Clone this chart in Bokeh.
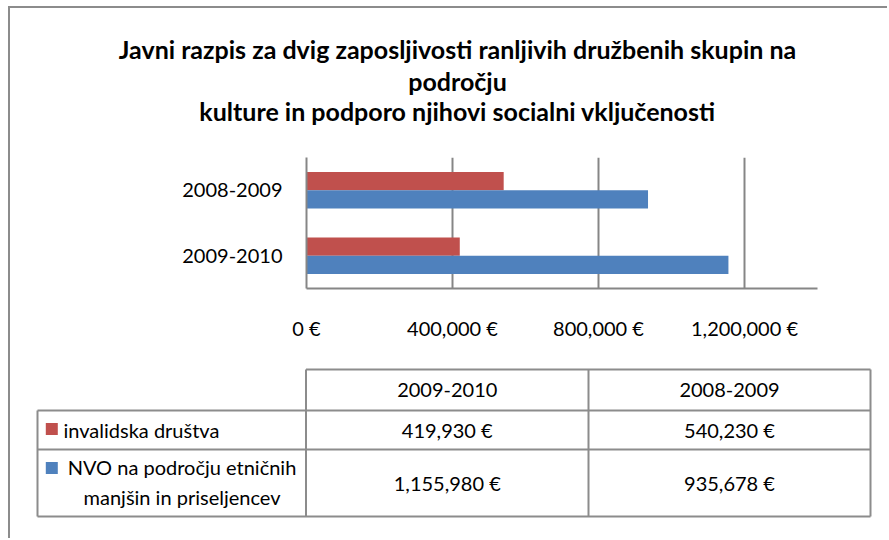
from bokeh.plotting import figure
from bokeh.models import Range1d, FactorRange, FixedTicker, ColumnDataSource
from bokeh.transform import dodge
from bokeh.layouts import column
from bokeh.core.properties import value
from bokeh.embed import file_html
from bokeh.resources import INLINE

# ---------------- data ----------------
categories = ["2009-2010", "2008-2009"]
invalidska = [419930, 540230]
nvo = [1155980, 935678]
series_names = ["invalidska društva", "NVO na področju etničnih manjšin in priseljencev"]
series_name_lines = [["invalidska društva"], ["NVO na področju etničnih", "manjšin in priseljencev"]]
ticks = [0, 400000, 800000, 1200000]
x_max = 1400000
title_lines = [
    "Javni razpis za dvig zaposljivosti ranljivih družbenih skupin na",
    "področju",
    "kulture in podporo njihovi socialni vključenosti",
]

# ---------------- style ----------------
RED = "#C0504D"
BLUE = "#4F81BD"
GRID = "#868686"
TBL = "#8c8c8c"
FONT = "Lato"
FS = "20px"

OX, OY = 10, 8          # offset of the layout inside the page
W = 889 - OX
H_T, H_B, H_TAB = 140, 207, 185


def euro(v):
    return f"{v:,} €"


def blank_fig(h):
    f = figure(width=W, height=h, x_range=Range1d(0, W), y_range=Range1d(h, 0),
               output_backend="svg", toolbar_location=None, min_border=0,
               x_axis_location=None, y_axis_location=None)
    f.grid.visible = False
    f.outline_line_color = None
    f.background_fill_color = "white"
    f.border_fill_color = "white"
    f.frame_align = False
    return f


# ---------------- title ----------------
pt = blank_fig(H_T)
ty0 = OY
pt.text(x=[457 - OX] * 3, y=[48 - ty0, 80 - ty0, 110 - ty0], text=title_lines,
        text_align="center", text_baseline="middle", text_font=value(FONT),
        text_font_style="bold", text_font_size="25px", text_color="black")

# ---------------- bar chart ----------------
p = figure(
    width=W, height=H_B,
    x_range=Range1d(0, x_max),
    y_range=FactorRange(factors=categories, range_padding=0),
    output_backend="svg", toolbar_location=None,
    min_border_left=306 - OX, min_border_right=W - (817 - OX),
    min_border_top=157 - (OY + H_T), min_border_bottom=(OY + H_T + H_B) - 288,
)
p.frame_align = False
p.outline_line_color = None
p.background_fill_color = "white"
p.border_fill_color = "white"

src = ColumnDataSource(dict(cat=categories, inv=invalidska, nvo=nvo))
p.hbar(y=dodge("cat", 0.14, range=p.y_range), left=0, right="inv", height=0.28,
       source=src, fill_color=RED, line_color=None)
p.hbar(y=dodge("cat", -0.14, range=p.y_range), left=0, right="nvo", height=0.28,
       source=src, fill_color=BLUE, line_color=None)

p.xaxis.ticker = FixedTicker(ticks=ticks)
p.xaxis.major_label_overrides = {t: euro(t) for t in ticks}
p.xgrid.ticker = FixedTicker(ticks=ticks)
p.xgrid.grid_line_color = GRID
p.xgrid.grid_line_width = 2
p.ygrid.visible = False

for ax in (p.xaxis, p.yaxis):
    ax.axis_line_color = GRID
    ax.axis_line_width = 2
    ax.major_tick_line_color = None
    ax.minor_tick_line_color = None
    ax.major_label_text_font = FONT
    ax.major_label_text_font_size = FS
    ax.major_label_text_color = "black"
p.xaxis.major_label_standoff = 21
p.yaxis.major_label_standoff = 18

# ---------------- data table ----------------
p2 = blank_fig(H_TAB)
oy = OY + H_T + H_B
cx0, cx1, cx2, cx3 = 37 - OX, 305.5 - OX, 588 - OX, 870 - OX
ry0, ry1, ry2, ry3 = 369 - oy, 410 - oy, 449 - oy, 516 - oy

p2.segment(x0=[cx1, cx0, cx0, cx0], y0=[ry0, ry1, ry2, ry3],
           x1=[cx3, cx3, cx3, cx3], y1=[ry0, ry1, ry2, ry3],
           line_color=TBL, line_width=2)
p2.segment(x0=[cx0, cx1, cx2, cx3], y0=[ry1, ry0, ry0, ry0],
           x1=[cx0, cx1, cx2, cx3], y1=[ry3, ry3, ry3, ry3],
           line_color=TBL, line_width=2)

col_c = [(cx1 + cx2) / 2, (cx2 + cx3) / 2]
hdr_y = (ry0 + ry1) / 2
r1_y = (ry1 + ry2) / 2
r2_y = (ry2 + ry3) / 2

tx, tyy, tt = [], [], []
for i, c in enumerate(categories):
    tx.append(col_c[i]); tyy.append(hdr_y); tt.append(c)
    tx.append(col_c[i]); tyy.append(r1_y); tt.append(euro(invalidska[i]))
    tx.append(col_c[i]); tyy.append(r2_y); tt.append(euro(nvo[i]))
p2.text(x=tx, y=tyy, text=tt, text_align="center", text_baseline="middle",
        text_font=value(FONT), text_font_size=FS, text_color="black")

# legend keys
p2.rect(x=[51.3 - OX, 51.3 - OX], y=[428.5 - oy, 467.5 - oy], width=12, height=12,
        fill_color=[RED, BLUE], line_color=None)

# row labels
p2.text(x=[63 - OX], y=[r1_y], text=series_name_lines[0], text_align="left",
        text_baseline="middle", text_font=value(FONT), text_font_size=FS, text_color="black")
p2.text(x=[181.5 - OX, 181.5 - OX], y=[466 - oy, 496 - oy], text=series_name_lines[1],
        text_align="center", text_baseline="middle", text_font=value(FONT),
        text_font_size=FS, text_color="black")

layout = column([pt, p, p2], spacing=0,
                styles={"margin-left": f"{OX}px", "margin-top": f"{OY}px",
                        "box-shadow": "-2px -2px 0 0 #8c8c8c"})

open("out.html", "w").write(file_html(layout, INLINE))
